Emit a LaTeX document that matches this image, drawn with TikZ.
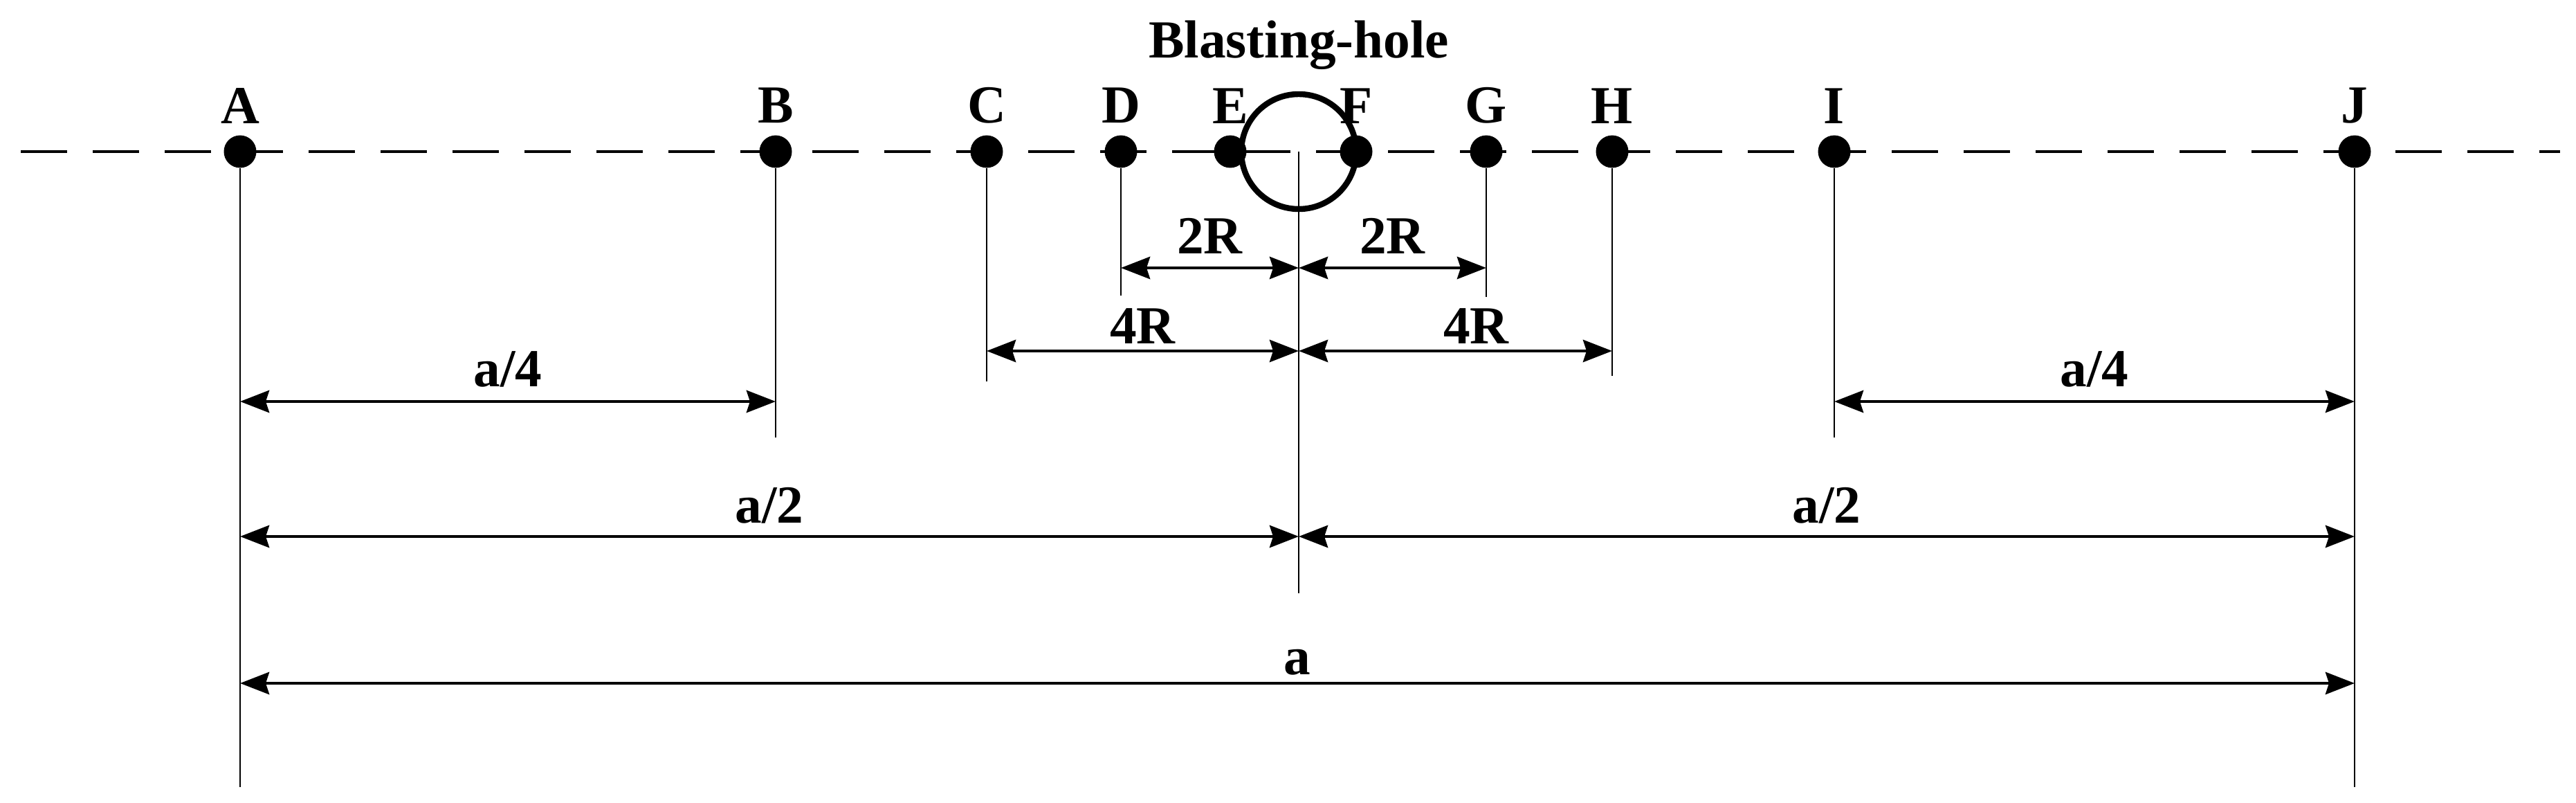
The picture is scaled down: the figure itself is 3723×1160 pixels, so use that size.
\documentclass[tikz,border=0pt]{standalone}
\usepackage{fontspec}
\setmainfont{Liberation Serif}
\usetikzlibrary{arrows.meta}

\tikzset{
  dot/.style={circle,fill,inner sep=0pt,minimum size=4.7mm},
  lbl/.style={font=\fontsize{22}{26}\selectfont\bfseries,inner sep=0pt},
  pt/.style={label={[lbl,label distance=1.6mm]above:#1}},
  dim/.style={line width=1.4pt,{Stealth[length=4.2mm,width=3.2mm,inset=0.5mm]}-{Stealth[length=4.2mm,width=3.2mm,inset=0.5mm]}},
  ext/.style={line width=0.7pt},
  axis/.style={line width=1.4pt,dash pattern=on 6.7mm off 3.7mm},
  hole/.style={draw,circle,line width=2.4pt,minimum size=16.6mm,inner sep=0pt}
}

\begin{document}
\begin{tikzpicture}[x=0.1mm,y=-0.1mm]
    \useasboundingbox (0,0) rectangle (3723,1160);
    \coordinate (left) at (30,219);
    \coordinate (right) at (3700,219);
    \coordinate (O) at (1877,219);
    \draw[axis] (left) -- (right);
    \node[hole] (hole) at (O) {};
    \node[lbl,anchor=base] (title) at (1877,84) {Blasting-hole};

    \node[dot,pt=A] (A) at (347,219) {};
    \node[dot,pt=B] (B) at (1121,219) {};
    \node[dot,pt=C] (C) at (1426,219) {};
    \node[dot,pt=D] (D) at (1620,219) {};
    \node[dot,pt=E] (E) at (1778,219) {};
    \node[dot,pt=F] (F) at (1960,219) {};
    \node[dot,pt=G] (G) at (2148,219) {};
    \node[dot,pt=H] (H) at (2330,219) {};
    \node[dot,pt=I] (I) at (2651,219) {};
    \node[dot,pt=J] (J) at (3403,219) {};

    \coordinate (Aend) at (347,1137);
    \coordinate (Bend) at (1121,632);
    \coordinate (Cend) at (1426,551);
    \coordinate (Dend) at (1620,427);
    \coordinate (Oend) at (1877,857);
    \coordinate (Gend) at (2148,429);
    \coordinate (Hend) at (2330,543);
    \coordinate (Iend) at (2651,632);
    \coordinate (Jend) at (3403,1137);
    \draw[ext] (A) -- (Aend);
    \draw[ext] (B) -- (Bend);
    \draw[ext] (C) -- (Cend);
    \draw[ext] (D) -- (Dend);
    \draw[ext] (O) -- (Oend);
    \draw[ext] (G) -- (Gend);
    \draw[ext] (H) -- (Hend);
    \draw[ext] (I) -- (Iend);
    \draw[ext] (J) -- (Jend);

    \coordinate (rowtwo) at (0,387);
    \coordinate (rowfour) at (0,507);
    \coordinate (rowquarter) at (0,580);
    \coordinate (rowhalf) at (0,775);
    \coordinate (rowfull) at (0,987);
    \draw[dim] (D |- rowtwo) -- (O |- rowtwo) node[lbl,midway,above=1.8mm] {2R};
    \draw[dim] (O |- rowtwo) -- (G |- rowtwo) node[lbl,midway,above=1.8mm] {2R};
    \draw[dim] (C |- rowfour) -- (O |- rowfour) node[lbl,midway,above=0.8mm] {4R};
    \draw[dim] (O |- rowfour) -- (H |- rowfour) node[lbl,midway,above=0.8mm,xshift=3mm] {4R};
    \draw[dim] (A |- rowquarter) -- (B |- rowquarter) node[lbl,midway,above=1.8mm] {a/4};
    \draw[dim] (I |- rowquarter) -- (J |- rowquarter) node[lbl,midway,above=1.8mm] {a/4};
    \draw[dim] (A |- rowhalf) -- (O |- rowhalf) node[lbl,midway,above=1.6mm] {a/2};
    \draw[dim] (O |- rowhalf) -- (J |- rowhalf) node[lbl,midway,above=1.6mm] {a/2};
    \draw[dim] (A |- rowfull) -- (J |- rowfull) node[lbl,midway,above=0.9mm] {a};
\end{tikzpicture}
\end{document}
